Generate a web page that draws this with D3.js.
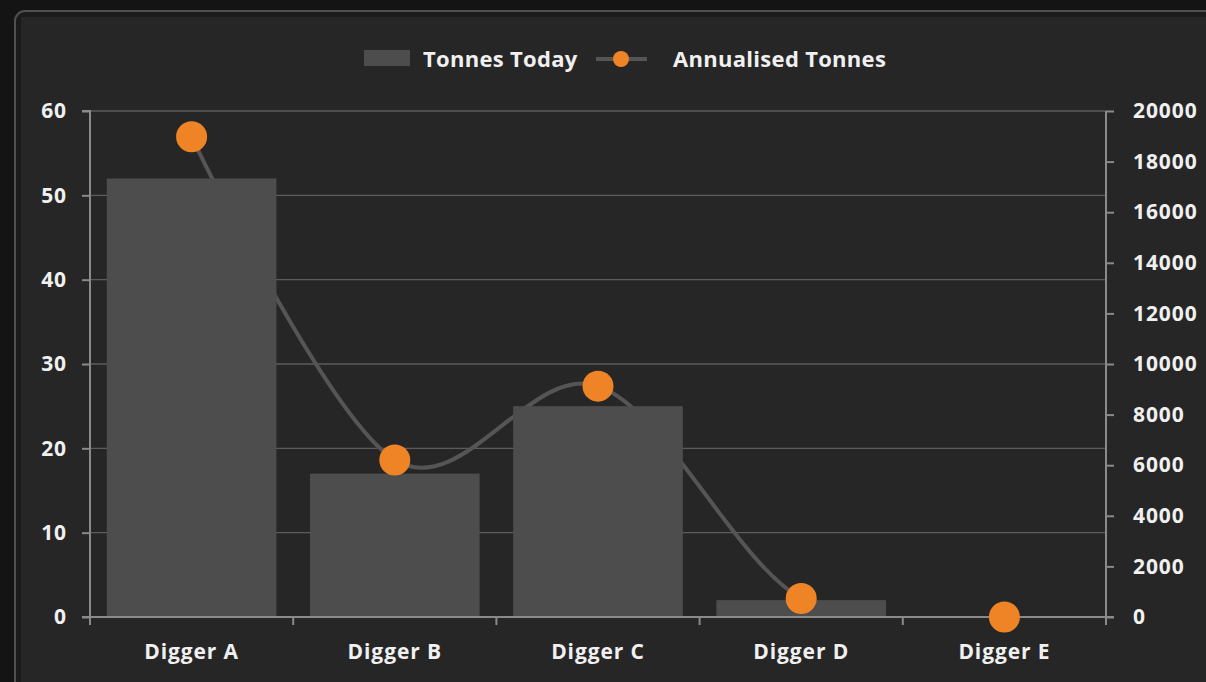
<!DOCTYPE html>
<html>
<head>
<meta charset="utf-8">
<script src="https://cdn.jsdelivr.net/npm/d3@7"></script>
<style>
  html, body { margin: 0; padding: 0; background: #141414; }
  svg { display: block; }
  text { font-family: "Open Sans", Lato, sans-serif; font-weight: bold; fill: #f0f0f0; }
</style>
</head>
<body>
<svg id="chart" width="1206" height="682"></svg>
<script>
// Daily tonnage per digger and the annualised figure for each
const categories = ["Digger A", "Digger B", "Digger C", "Digger D", "Digger E"];
const tonnesToday = [52, 17, 25, 2, 0];
const annualisedTonnes = [18980, 6205, 9125, 730, 0];
const leftTicks = [0, 10, 20, 30, 40, 50, 60];
const rightTicks = [0, 2000, 4000, 6000, 8000, 10000, 12000, 14000, 16000, 18000, 20000];

const svg = d3.select("#chart");
const W = 1206, H = 682;
const plot = { left: 90, right: 1106, top: 111, bottom: 617 };
const FONT = "'Open Sans', Lato, sans-serif";
const FS = 21;

// Panel frame
svg.append("rect").attr("x", 0).attr("y", 0).attr("width", W).attr("height", H).attr("fill", "#141414");
svg.append("rect").attr("x", 15).attr("y", 11).attr("width", W + 40).attr("height", H + 40)
  .attr("rx", 10).attr("fill", "#1b1b1b").attr("stroke", "#505050").attr("stroke-width", 2);
svg.append("rect").attr("x", 21).attr("y", 17).attr("width", W).attr("height", H).attr("fill", "#262626");

// Plot-area clip for the smoothed line
svg.append("defs").append("clipPath").attr("id", "plotClip")
  .append("rect").attr("x", plot.left).attr("y", plot.top - 40)
  .attr("width", plot.right - plot.left).attr("height", plot.bottom - plot.top + 40);

const x = d3.scaleBand().domain(categories).range([plot.left, plot.right]).paddingInner(0.165).paddingOuter(0.0825);
const xTicks = d3.scaleBand().domain(categories).range([plot.left, plot.right]);
const yL = d3.scaleLinear().domain([0, 60]).range([plot.bottom, plot.top]);
const yR = d3.scaleLinear().domain([0, 20000]).range([plot.bottom, plot.top]);

// Horizontal gridlines
svg.append("g").selectAll("line").data(leftTicks.slice(1)).join("line")
  .attr("x1", plot.left).attr("x2", plot.right)
  .attr("y1", d => yL(d)).attr("y2", d => yL(d))
  .attr("stroke", "#5c5c5c").attr("stroke-width", 1.3);

// Smoothed annualised line (sits behind the bars)
const line = d3.line()
  .x((d, i) => xTicks(categories[i]) + xTicks.bandwidth() / 2)
  .y(d => yR(d))
  .curve(d3.curveCardinal.tension(0));
svg.append("path").datum(annualisedTonnes).attr("d", line)
  .attr("clip-path", "url(#plotClip)")
  .attr("fill", "none").attr("stroke", "#555555").attr("stroke-width", 4);

// Bars
svg.append("g").selectAll("rect").data(categories).join("rect")
  .attr("x", d => x(d)).attr("width", x.bandwidth())
  .attr("y", (d, i) => yL(tonnesToday[i]))
  .attr("height", (d, i) => yL(0) - yL(tonnesToday[i]))
  .attr("fill", "#4d4d4d");

// Left axis
const axisColor = "#8a8a8a";
const gL = svg.append("g").attr("transform", `translate(${plot.left},0)`)
  .call(d3.axisLeft(yL).tickValues(leftTicks).tickSize(8).tickPadding(15).tickFormat(d3.format("d")));
// Right axis
const gR = svg.append("g").attr("transform", `translate(${plot.right},0)`)
  .call(d3.axisRight(yR).tickValues(rightTicks).tickSize(8).tickPadding(19).tickFormat(d3.format("d")));
// Bottom axis with tick marks between categories
const gB = svg.append("g").attr("transform", `translate(0,${plot.bottom})`)
  .call(d3.axisBottom(xTicks).tickSize(0).tickPadding(27));
gB.selectAll(".tick").each(function(d) {
  d3.select(this).append("line").attr("x1", -xTicks.bandwidth() / 2).attr("x2", -xTicks.bandwidth() / 2)
    .attr("y1", 0).attr("y2", 8);
});
gB.append("line").attr("class", "endtick").attr("x1", plot.right).attr("x2", plot.right).attr("y1", 0).attr("y2", 8);

[gL, gR, gB].forEach(g => {
  g.selectAll("path.domain").attr("stroke", axisColor).attr("stroke-width", 2);
  g.selectAll("line").attr("stroke", axisColor).attr("stroke-width", 2);
  g.selectAll("text").attr("font-size", FS).attr("font-family", FONT).attr("font-weight", "bold")
    .attr("letter-spacing", 0.9).attr("fill", "#f0f0f0");
});
gL.select("path.domain").attr("d", `M-8,${plot.top}H0V${plot.bottom}`);
gR.select("path.domain").attr("d", `M0,${plot.top}V${plot.bottom}`);
gB.select("path.domain").attr("d", `M${plot.left - 8},0H${plot.right + 8}`);

// Markers
svg.append("g").selectAll("circle").data(annualisedTonnes).join("circle")
  .attr("cx", (d, i) => xTicks(categories[i]) + xTicks.bandwidth() / 2)
  .attr("cy", d => yR(d))
  .attr("r", 15.5).attr("fill", "#ef8427");

// Legend
const lg = svg.append("g");
lg.append("rect").attr("x", 364).attr("y", 50).attr("width", 46).attr("height", 16).attr("fill", "#4d4d4d");
lg.append("text").attr("x", 423).attr("y", 67).attr("font-size", 22).attr("letter-spacing", 0.3).text("Tonnes Today");
lg.append("line").attr("x1", 596).attr("x2", 647).attr("y1", 59).attr("y2", 59).attr("stroke", "#555555").attr("stroke-width", 4);
lg.append("circle").attr("cx", 621).attr("cy", 59).attr("r", 8).attr("fill", "#ef8427");
lg.append("text").attr("x", 673).attr("y", 67).attr("font-size", 22).attr("letter-spacing", 0.3).text("Annualised Tonnes");
</script>
</body>
</html>
